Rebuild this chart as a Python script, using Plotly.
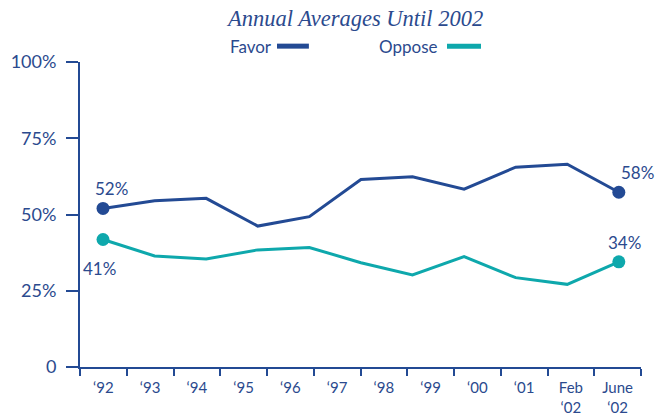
import plotly.graph_objects as go

# ---- data ----
categories = ["\u201892", "\u201893", "\u201894", "\u201895", "\u201896", "\u201897",
              "\u201898", "\u201899", "\u201800", "\u201801", "Feb<br>\u201802", "June<br>\u201802"]
point_index = list(range(11))
favor = [52, 54.5, 55.3, 46.2, 49.3, 61.5, 62.4, 58.3, 65.5, 66.5, 57.3]
oppose = [41.8, 36.4, 35.4, 38.4, 39.2, 34.2, 30.2, 36.2, 29.3, 27.1, 34.5]
favor_end_labels = ["52%", "58%"]
oppose_end_labels = ["41%", "34%"]
y_tickvals = [0, 25, 50, 75, 100]
y_ticktext = ["0", "25%", "50%", "75%", "100%"]

BLUE = "#234A94"
TEAL = "#0EA8AC"
TEXT = "#2B4A8E"
FONT = "Lato"

fig = go.Figure()

# base trace so the category axis subplot exists
fig.add_trace(go.Scatter(x=[0], y=[None], mode="markers", showlegend=False, hoverinfo="skip"))

fig.add_trace(go.Scatter(
    x=point_index, y=favor, mode="lines", xaxis="x2",
    line=dict(color=BLUE, width=3), hoverinfo="skip", showlegend=False))
fig.add_trace(go.Scatter(
    x=point_index, y=oppose, mode="lines", xaxis="x2",
    line=dict(color=TEAL, width=3), hoverinfo="skip", showlegend=False))
fig.add_trace(go.Scatter(
    x=[point_index[0], point_index[-1]], y=[favor[0], favor[-1]], mode="markers",
    xaxis="x2", marker=dict(color=BLUE, size=13), showlegend=False))
fig.add_trace(go.Scatter(
    x=[point_index[0], point_index[-1]], y=[oppose[0], oppose[-1]], mode="markers",
    xaxis="x2", marker=dict(color=TEAL, size=13), showlegend=False))

# end-point value labels
label_specs = [
    (point_index[0], favor[0], favor_end_labels[0], 8, 20),
    (point_index[-1], favor[-1], favor_end_labels[1], 19, 20),
    (point_index[0], oppose[0], oppose_end_labels[0], -4, -29),
    (point_index[-1], oppose[-1], oppose_end_labels[1], 6, 19),
]
for x, y, t, dx, dy in label_specs:
    fig.add_annotation(x=x, y=y, xref="x2", yref="y", text=t, showarrow=False,
                       xshift=dx, yshift=dy, xanchor="center", yanchor="middle",
                       font=dict(family=FONT, size=17, color=TEXT))

n = len(categories)
fig.update_layout(
    width=667, height=417,
    margin=dict(l=80, r=26, t=62, b=50, autoexpand=False),
    paper_bgcolor="white", plot_bgcolor="white",
    font=dict(family=FONT, color=TEXT, size=16),
    showlegend=False,
    xaxis=dict(type="linear", range=[-0.5, n - 0.5],
               tickvals=list(range(n)), ticktext=categories,
               ticks="outside", ticklen=6, tickcolor="rgba(0,0,0,0)",
               minor=dict(tickmode="linear", tick0=0.5, dtick=1, ticks="outside",
                          ticklen=7, tickwidth=2, tickcolor=BLUE, showgrid=False),
               showline=True, linecolor=BLUE, linewidth=2,
               showgrid=False, zeroline=False, automargin=False,
               tickfont=dict(family=FONT, size=15, color=TEXT)),
    xaxis2=dict(type="linear", range=[-0.446, 10.43], overlaying="x", anchor="y",
                visible=False),
    yaxis=dict(range=[0, 100], tickvals=y_tickvals, ticktext=y_ticktext,
               ticks="outside", ticklen=12, tickwidth=2, tickcolor=BLUE,
               ticklabelstandoff=6,
               showline=True, linecolor=BLUE, linewidth=2,
               showgrid=False, zeroline=False, automargin=False,
               tickfont=dict(family=FONT, size=18, color=TEXT)),
)

fig.add_annotation(text="<i>Annual Averages Until 2002</i>", xref="paper", yref="paper",
                   x=0.49, y=1.141, yanchor="middle", showarrow=False,
                   font=dict(family="Liberation Serif", size=22.5, color=TEXT))
fig.add_annotation(text="Favor", xref="paper", yref="paper", x=0.2638, y=1.05,
                   xanchor="left", yanchor="middle", showarrow=False,
                   font=dict(family=FONT, size=17, color=TEXT))
fig.add_annotation(text="Oppose", xref="paper", yref="paper", x=0.5294, y=1.05,
                   xanchor="left", yanchor="middle", showarrow=False,
                   font=dict(family=FONT, size=17, color=TEXT))
fig.add_shape(type="line", xref="paper", yref="paper", x0=0.3512, x1=0.408, y0=1.052, y1=1.052,
              line=dict(color=BLUE, width=5))
fig.add_shape(type="line", xref="paper", yref="paper", x0=0.6542, x1=0.7148, y0=1.052, y1=1.052,
              line=dict(color=TEAL, width=5))

fig.write_html("out.html", config={"displayModeBar": False},
               post_script="document.body.style.margin='0';")
